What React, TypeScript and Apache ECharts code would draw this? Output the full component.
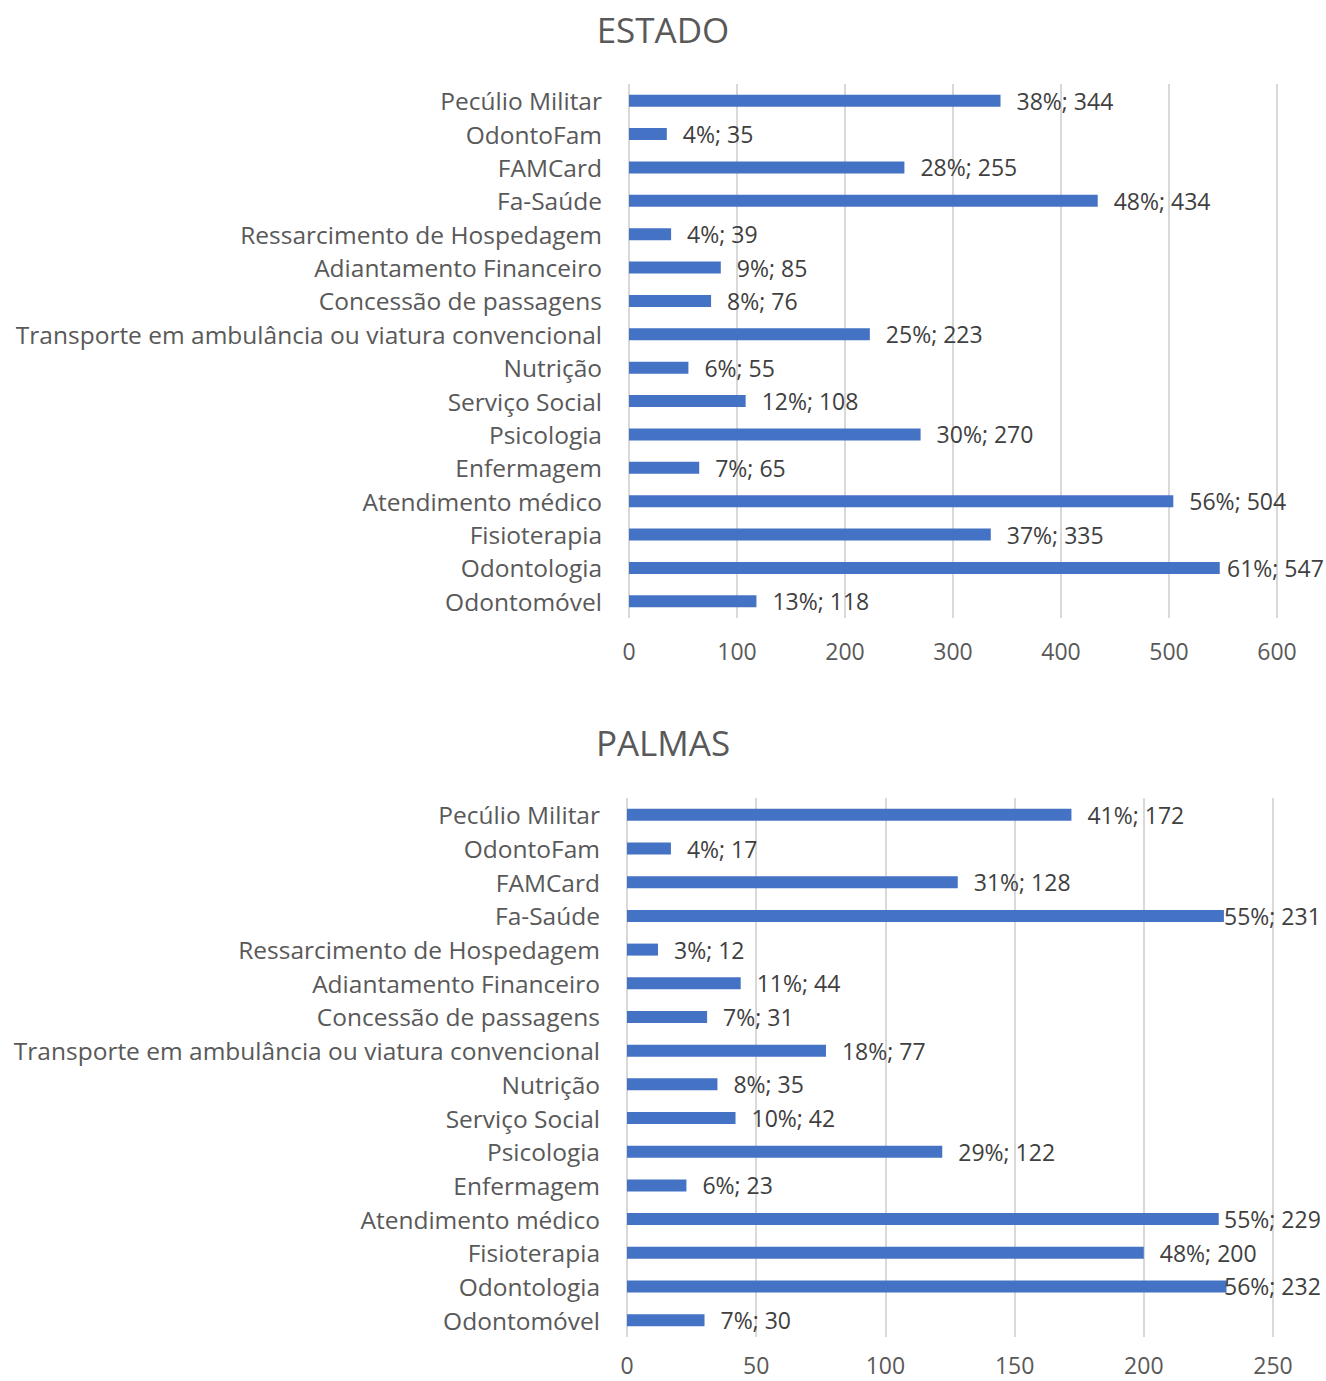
import React, { useEffect, useRef } from "react";
import * as echarts from "echarts";

// Service categories, listed top to bottom
const categories = [
  "Pecúlio Militar",
  "OdontoFam",
  "FAMCard",
  "Fa-Saúde",
  "Ressarcimento de Hospedagem",
  "Adiantamento Financeiro",
  "Concessão de passagens",
  "Transporte em ambulância ou viatura convencional",
  "Nutrição",
  "Serviço Social",
  "Psicologia",
  "Enfermagem",
  "Atendimento médico",
  "Fisioterapia",
  "Odontologia",
  "Odontomóvel",
];

const estadoValues = [344, 35, 255, 434, 39, 85, 76, 223, 55, 108, 270, 65, 504, 335, 547, 118];
const estadoPercents = [38, 4, 28, 48, 4, 9, 8, 25, 6, 12, 30, 7, 56, 37, 61, 13];

const palmasValues = [172, 17, 128, 231, 12, 44, 31, 77, 35, 42, 122, 23, 229, 200, 232, 30];
const palmasPercents = [41, 4, 31, 55, 3, 11, 7, 18, 8, 10, 29, 6, 55, 48, 56, 7];

const estadoTicks = { max: 600, interval: 100 };
const palmasTicks = { max: 250, interval: 50 };

const W = 1326;
const H = 1381;
const FONT = "'Open Sans', 'Noto Sans', sans-serif";
const BAR = "#4472C4";
const CAT_SIZE = 24.5;
const VALUE_SIZE = 23;

type Panel = {
  title: string;
  titleTop: number;
  left: number;
  right: number;
  top: number;
  height: number;
  tickMargin: number;
  max: number;
  interval: number;
  labelLimit: number;
  values: number[];
  percents: number[];
};

const panels: Panel[] = [
  {
    title: "ESTADO",
    titleTop: 7,
    left: 629,
    right: 49,
    top: 84,
    height: 534,
    tickMargin: 21,
    max: estadoTicks.max,
    interval: estadoTicks.interval,
    labelLimit: 1323,
    values: estadoValues,
    percents: estadoPercents,
  },
  {
    title: "PALMAS",
    titleTop: 720,
    left: 627,
    right: 53,
    top: 798,
    height: 539,
    tickMargin: 16,
    max: palmasTicks.max,
    interval: palmasTicks.interval,
    labelLimit: 1320,
    values: palmasValues,
    percents: palmasPercents,
  },
];

function labelText(p: number, v: number) {
  return `${p}%; ${v}`;
}

// Labels that would run past the chart edge are pulled back over the bar end
function buildData(panel: Panel) {
  const plotWidth = W - panel.left - panel.right;
  return panel.values.map((v, i) => {
    const text = labelText(panel.percents[i], v);
    const textWidth = text.length * 12.0;
    const barEnd = panel.left + (v / panel.max) * plotWidth;
    const distance = Math.min(16, panel.labelLimit - barEnd - textWidth);
    return { value: v, label: { distance } };
  });
}

export default function App() {
  const ref = useRef<HTMLDivElement>(null);

  useEffect(() => {
    document.body.style.margin = "0";
    if (!ref.current) return;
    const chart = echarts.init(ref.current, undefined, { renderer: "svg" });

    const option: echarts.EChartsOption = {
      animation: false,
      backgroundColor: "#ffffff",
      title: panels.map((p) => ({
        text: p.title,
        left: "center",
        top: p.titleTop,
        textStyle: {
          fontFamily: FONT,
          fontSize: 35,
          fontWeight: "normal",
          color: "#595959",
        },
      })),
      grid: panels.map((p) => ({
        left: p.left,
        right: p.right,
        top: p.top,
        height: p.height,
        containLabel: false,
      })),
      xAxis: panels.map((p, i) => ({
        type: "value",
        gridIndex: i,
        min: 0,
        max: p.max,
        interval: p.interval,
        axisLine: { show: false },
        axisTick: { show: false },
        splitLine: { show: true, lineStyle: { color: "#d9d9d9", width: 2 } },
        axisLabel: {
          fontFamily: FONT,
          fontSize: VALUE_SIZE,
          lineHeight: 23,
          color: "#595959",
          margin: p.tickMargin,
        },
      })),
      yAxis: panels.map((_, i) => ({
        type: "category",
        gridIndex: i,
        inverse: true,
        data: categories,
        axisLine: { show: false },
        axisTick: { show: false },
        splitLine: { show: false },
        axisLabel: {
          fontFamily: FONT,
          fontSize: CAT_SIZE,
          color: "#595959",
          margin: 27,
        },
      })),
      series: panels.map((p, i) => ({
        type: "bar",
        xAxisIndex: i,
        yAxisIndex: i,
        barWidth: 12,
        itemStyle: { color: BAR },
        label: {
          show: true,
          position: "right",
          fontFamily: FONT,
          fontSize: VALUE_SIZE,
          color: "#404040",
          formatter: (params: any) =>
            labelText(p.percents[params.dataIndex], p.values[params.dataIndex]),
        },
        data: buildData(p),
      })),
    };

    chart.setOption(option);
    return () => chart.dispose();
  }, []);

  return <div ref={ref} style={{ width: W, height: H }} />;
}
